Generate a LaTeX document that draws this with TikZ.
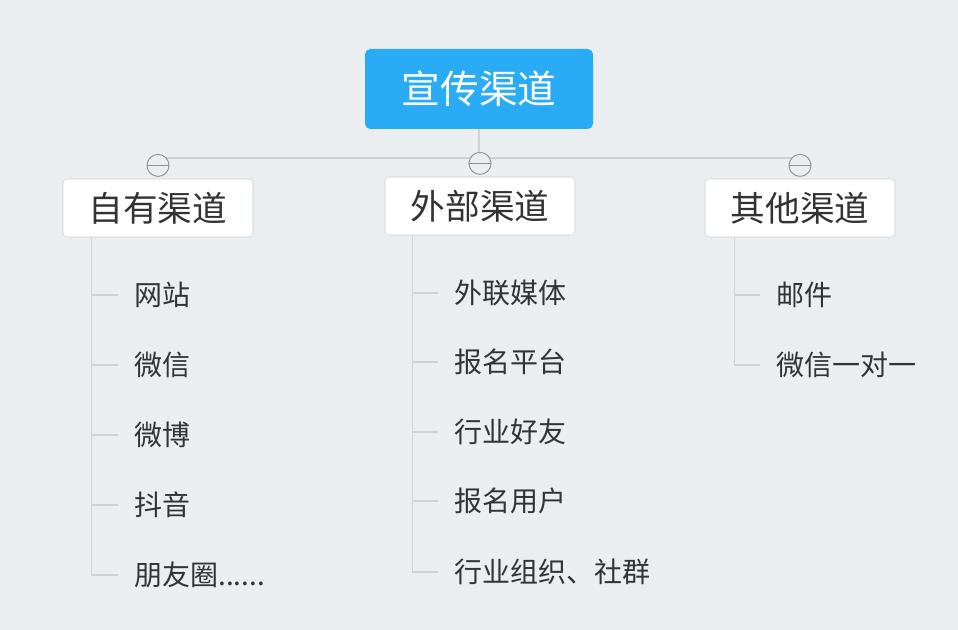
\documentclass[tikz,border=0pt]{standalone}
\usepackage{fontspec}
\newfontfamily\cjk{Noto Sans CJK SC}
\usetikzlibrary{positioning}

\definecolor{bgcol}{HTML}{EBEEF1}
\definecolor{rootblue}{HTML}{2AABF5}
\definecolor{boxline}{HTML}{CBCFD5}
\definecolor{linecol}{HTML}{CDD2D8}
\definecolor{foldcol}{HTML}{8C929A}
\definecolor{txtcol}{HTML}{333333}

\tikzset{
  rootbox/.style = {fill=rootblue, rounded corners=4pt, text=white,
    minimum width=171pt, minimum height=60pt, font=\cjk\fontsize{29pt}{32pt}\selectfont},
  catbox/.style = {draw=boxline, fill=white, rounded corners=3pt, text=txtcol,
    minimum width=142.5pt, minimum height=43.5pt, font=\cjk\fontsize{26pt}{30pt}\selectfont},
  leaf/.style = {anchor=west, inner xsep=12pt, inner ysep=0pt, text=txtcol,
    font=\cjk\fontsize{21pt}{24pt}\selectfont},
  branch/.style = {draw=linecol, line width=0.9pt},
  foldmark/.style = {circle, draw=foldcol, fill=bgcol, line width=0.7pt,
    minimum size=16.5pt, inner sep=0pt,
    path picture={\draw[foldcol, line width=0.7pt]
      (path picture bounding box.west) -- (path picture bounding box.east);}}
}

\begin{document}
\begin{tikzpicture}[x=0.75pt, y=-0.75pt]
    \fill[bgcol] (0,0) rectangle (958,630);
    \useasboundingbox (0,0) rectangle (958,630);

    % Root and categories
    \node[rootbox] (root) at (479,89) {宣传渠道};
    \node[catbox] (own) at (158,208) {自有渠道};
    \node[catbox] (ext) at (480,206) {外部渠道};
    \node[catbox] (oth) at (800,208) {其他渠道};

    % Leaves
    \node[leaf] (own1) at (118,295) {网站};
    \node[leaf] (own2) at (118,365) {微信};
    \node[leaf] (own3) at (118,435) {微博};
    \node[leaf] (own4) at (118,505) {抖音};
    \node[leaf] (own5) at (118,575) {朋友圈......};

    \node[leaf] (ext1) at (438,293) {外联媒体};
    \node[leaf] (ext2) at (438,362) {报名平台};
    \node[leaf] (ext3) at (438,432) {行业好友};
    \node[leaf] (ext4) at (438,501) {报名用户};
    \node[leaf] (ext5) at (438,572) {行业组织、社群};

    \node[leaf] (oth1) at (760,295) {邮件};
    \node[leaf] (oth2) at (760,365) {微信一对一};

    % Edges
    \coordinate (hub) at (479,158);
    \draw[branch] (root) -- (hub);
    \draw[branch] (own |- hub) -- (oth |- hub);

    % fold marks
    \node[foldmark] (fold1) at ([yshift=10pt]own.north) {};
    \node[foldmark] (fold2) at ([yshift=10pt]ext.north) {};
    \node[foldmark] (fold3) at ([yshift=10pt]oth.north) {};

    % own | leaves
    \draw[branch] ([xshift=21.5pt]own.south west) |- (own1.west);
    \draw[branch] ([xshift=21.5pt]own.south west) |- (own2.west);
    \draw[branch] ([xshift=21.5pt]own.south west) |- (own3.west);
    \draw[branch] ([xshift=21.5pt]own.south west) |- (own4.west);
    \draw[branch] ([xshift=21.5pt]own.south west) |- (own5.west);

    % ext | leaves
    \draw[branch] ([xshift=21pt]ext.south west) |- (ext1.west);
    \draw[branch] ([xshift=21pt]ext.south west) |- (ext2.west);
    \draw[branch] ([xshift=21pt]ext.south west) |- (ext3.west);
    \draw[branch] ([xshift=21pt]ext.south west) |- (ext4.west);
    \draw[branch] ([xshift=21pt]ext.south west) |- (ext5.west);

    % oth | leaves
    \draw[branch] ([xshift=22.5pt]oth.south west) |- (oth1.west);
    \draw[branch] ([xshift=22.5pt]oth.south west) |- (oth2.west);

\end{tikzpicture}
\end{document}
